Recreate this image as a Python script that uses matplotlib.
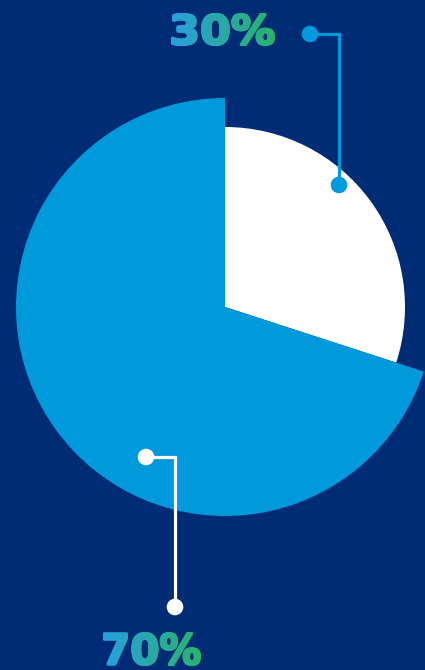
import matplotlib
matplotlib.use("Agg")
import matplotlib.pyplot as plt
import numpy as np
from matplotlib.textpath import TextPath
from matplotlib.patches import PathPatch, Circle
from matplotlib.font_manager import FontProperties
from matplotlib.transforms import Affine2D
from matplotlib.colors import LinearSegmentedColormap

# data
categories = ["Share A", "Share B"]
values = [30, 70]
labels = ["30%", "70%"]

BG = "#002c75"
BLUE = "#0099db"
WHITE = "#ffffff"

W, H = 425, 670
fig = plt.figure(figsize=(W / 100, H / 100), dpi=100, facecolor=BG)
ax = fig.add_axes([0, 0, 1, 1])
ax.set_facecolor(BG)

center = (225, 307)
# y axis is inverted below, so angles are mirrored: start at -90 (visual top),
# counterclock=True gives visual clockwise
wedges, _ = ax.pie(values, colors=[WHITE, BLUE], startangle=-90, counterclock=True,
                   center=center, radius=180, frame=True,
                   wedgeprops=dict(linewidth=0, antialiased=True))
wedges[1].set_radius(209)

ax.set_xlim(0, W)
ax.set_ylim(H, 0)
ax.set_aspect("equal")
ax.axis("off")

# connectors
lw = 2.3
# top (30%)
ax.plot([310, 339, 339], [34, 34, 185], color=BLUE, lw=lw, solid_joinstyle="miter", zorder=5)
for p in [(310, 34), (339, 185)]:
    ax.add_patch(Circle(p, 8.3, color=BLUE, zorder=6, lw=0))
# bottom (70%)
ax.plot([146, 175, 175], [457, 457, 607], color=WHITE, lw=lw, solid_joinstyle="miter", zorder=5)
for p in [(146, 457), (175, 607)]:
    ax.add_patch(Circle(p, 8.3, color=WHITE, zorder=6, lw=0))

cmap = LinearSegmentedColormap.from_list("g", ["#27a0e0", "#2ab36a"])
fp = FontProperties(family="DejaVu Sans", weight="bold")


def grad_text(s, cx, top, height, width, bold=1.0):
    tp = TextPath((0, 0), s, size=100, prop=fp)
    bb = tp.get_extents()
    hh = height - 2 * bold
    ww = width - 2 * bold
    sy = hh / bb.height
    sx = ww / bb.width
    x0 = cx - ww / 2
    t0 = top + bold
    offsets = [(dx, dy) for dx in (-bold, 0, bold) for dy in (-bold, 0, bold)]
    grad = np.linspace(0, 1, 256).reshape(1, -1)
    for dx, dy in offsets:
        tr = Affine2D().translate(-bb.x0, -bb.y1).scale(sx, -sy).translate(x0 + dx, t0 + dy)
        patch = PathPatch(tp, transform=tr + ax.transData, facecolor="none", edgecolor="none")
        ax.add_patch(patch)
        im = ax.imshow(grad, cmap=cmap, extent=(x0 - bold, x0 + ww + bold, top + height, top),
                       aspect="auto", zorder=7, interpolation="bilinear")
        im.set_clip_path(patch)


grad_text(labels[0], 223, 13, 33, 104)
grad_text(labels[1], 152, 632, 34, 98)

ax.set_xlim(0, W)
ax.set_ylim(H, 0)
fig.savefig("out.png", dpi=100, facecolor=BG)
